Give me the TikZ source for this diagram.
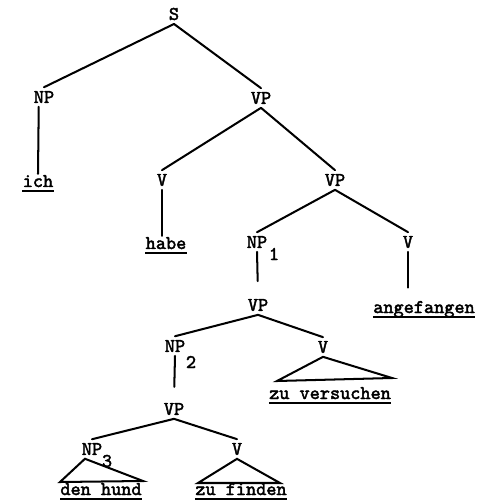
\documentclass[tikz,border=0pt]{standalone}
\usepackage{fontspec}
\usepackage{tikz}
\usetikzlibrary{positioning}
\newfontfamily\treefont[FakeBold=2.2]{lmmono10-regular.otf}
\tikzset{
  cat/.style={font=\treefont\fontsize{11}{13}\selectfont,inner sep=2pt},
  lex/.style={cat,inner xsep=0pt,inner ysep=0.5pt,anchor=base},
  subidx/.style={cat,inner sep=0pt},
  branch/.style={line width=1.15pt,line cap=round},
  ulline/.style={line width=1.3pt}
}

\begin{document}
\begin{tikzpicture}[x=0.02cm,y=-0.02cm]
\useasboundingbox (0,0) rectangle (476,502);
% categories
\node[cat] (s) at (174,14) {S};
\node[cat] (np) at (44,97) {NP};
\node[cat] (vp) at (261,98) {VP};
\node[cat] (vl) at (162,180) {V};
\node[cat] (vpb) at (335,180) {VP};
\node[cat] (npa) at (257,242) {NP};
\node[subidx] (npaidx) at (274,254) {1};
\node[cat] (vr) at (408,242) {V};
\node[cat] (vpc) at (258,305) {VP};
\node[cat] (npb) at (175,346) {NP};
\node[subidx] (npbidx) at (191,362) {2};
\node[cat] (vv) at (323,347) {V};
\node[cat] (vpd) at (174,409) {VP};
\node[cat] (npc) at (92,449) {NP};
\node[subidx] (npcidx) at (107,461) {3};
\node[cat] (vf) at (237,449) {V};
% words
\node[lex] (ich) at (38,187) {ich};
\node[lex] (habe) at (166,249) {habe};
\node[lex] (angef) at (424,313) {angefangen};
\node[lex] (vers) at (330,399) {zu versuchen};
\node[lex] (hund) at (101,495) {den hund};
\node[lex] (finden) at (241,495) {zu finden};
\foreach \w in {ich,habe,angef,vers,hund,finden}
  \draw[ulline] ([yshift=-2.2pt]\w.base west) -- ([yshift=-2.2pt]\w.base east);
% branches
\draw[branch] (s.south) -- (np.north);
\draw[branch] (s.south) -- (vp.north);
\draw[branch] ([xshift=-3pt]np.south) -- (ich.north);
\draw[branch] (vp.south) -- (vl.north);
\draw[branch] (vp.south) -- (vpb.north);
\draw[branch] (vl.south) -- (vl.south |- habe.north);
\draw[branch] (vpb.south) -- (npa.north);
\draw[branch] (vpb.south) -- (vr.north);
\draw[branch,shorten >=7pt] (vr.south) -- (vr.south |- angef.north);
\draw[branch,shorten >=8pt] (npa.south) -- (vpc.north);
\draw[branch] (vpc.south) -- (npb.north);
\draw[branch] (vpc.south) -- (vv.north);
\draw[branch,shorten >=7pt] (npb.south) -- (vpd.north);
\draw[branch] (vpd.south) -- (npc.north);
\draw[branch] (vpd.south) -- (vf.north);
% triangles over the phrases
\coordinate (versl) at (277,381);
\coordinate (versr) at (392,378);
\coordinate (hundl) at (60,482);
\coordinate (hundr) at (143,481);
\coordinate (findl) at (198,483);
\coordinate (findr) at (280,483);
\draw[branch] (vv.south) -- (versl) -- (versr) -- cycle;
\draw[branch] ([xshift=-4pt]npc.south) -- (hundl) -- (hundr) -- cycle;
\draw[branch] (vf.south) -- (findl) -- (findr) -- cycle;
\end{tikzpicture}
\end{document}
